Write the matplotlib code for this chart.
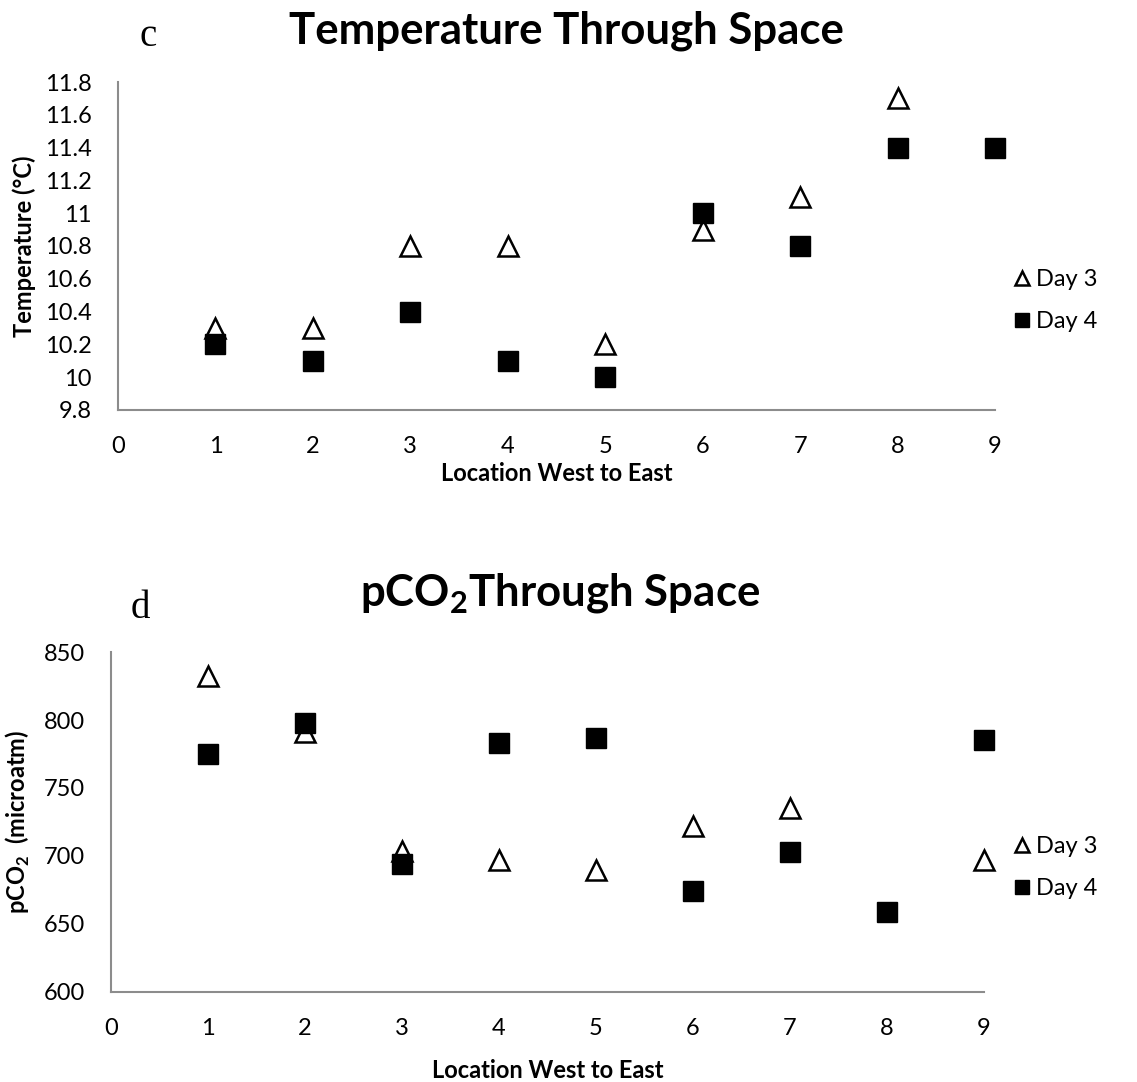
import matplotlib
matplotlib.use("Agg")
import matplotlib.pyplot as plt

plt.rcParams["font.family"] = ["Lato", "DejaVu Sans"]
plt.rcParams["mathtext.fontset"] = "custom"
plt.rcParams["mathtext.rm"] = "Lato"
plt.rcParams["mathtext.bf"] = "Lato:bold"

# location west to east
locations = [1, 2, 3, 4, 5, 6, 7, 8, 9]

# panel c: temperature (deg C)
temp_day3_x = [1, 2, 3, 4, 5, 6, 7, 8]
temp_day3 = [10.3, 10.3, 10.8, 10.8, 10.2, 10.9, 11.1, 11.7]
temp_day4 = [10.2, 10.1, 10.4, 10.1, 10.0, 11.0, 10.8, 11.4, 11.4]
temp_ticks = [9.8, 10, 10.2, 10.4, 10.6, 10.8, 11, 11.2, 11.4, 11.6, 11.8]
temp_tick_labels = ["9.8", "10", "10.2", "10.4", "10.6", "10.8", "11", "11.2", "11.4", "11.6", "11.8"]

# panel d: pCO2 (microatm)
pco2_day3 = [832, 791, 704, 697, 690, 722, 735, 697]
pco2_day3_x = [1, 2, 3, 4, 5, 6, 7, 9]
pco2_day4 = [775, 798, 694, 783, 787, 674, 703, 659, 785]
pco2_ticks = [600, 650, 700, 750, 800, 850]

x_ticks = [0, 1, 2, 3, 4, 5, 6, 7, 8, 9]

spine_col = "#8c8c8c"

fig = plt.figure(figsize=(11.37, 10.82), dpi=100)
ax_c = fig.add_axes([0.1038, 0.6211, 0.7713, 0.3031])
ax_d = fig.add_axes([0.0976, 0.0832, 0.7678, 0.3142])


def style_axes(ax):
    for side in ["top", "right"]:
        ax.spines[side].set_visible(False)
    for side in ["left", "bottom"]:
        ax.spines[side].set_color(spine_col)
        ax.spines[side].set_linewidth(1.5)
    ax.set_xlim(0, 9)
    ax.set_xticks(x_ticks)
    ax.tick_params(axis="both", length=0, labelsize=17)
    ax.tick_params(axis="x", pad=19)
    ax.tick_params(axis="y", pad=19)


def draw_points(ax, x3, y3, x4, y4):
    ax.plot(x3, y3, linestyle="none", marker="^", markersize=14,
            markerfacecolor="white", markeredgecolor="black", markeredgewidth=1.8,
            label="Day 3", clip_on=False, zorder=3)
    ax.plot(x4, y4, linestyle="none", marker="s", markersize=14,
            color="black", label="Day 4", clip_on=False, zorder=4)


def add_legend(ax, y):
    ax.legend(loc="center left", bbox_to_anchor=(0.882, y), bbox_transform=fig.transFigure,
              frameon=False, fontsize=17, markerscale=0.75, handlelength=0.6,
              handletextpad=0.3, labelspacing=0.9, borderpad=0)


# panel c
draw_points(ax_c, temp_day3_x, temp_day3, locations, temp_day4)
style_axes(ax_c)
ax_c.set_ylim(9.8, 11.8)
ax_c.set_yticks(temp_ticks)
ax_c.set_yticklabels(temp_tick_labels)
ax_c.set_xlabel("Location West to East", fontsize=17, fontweight="bold", labelpad=3)
ax_c.set_ylabel("Temperature (°C)", fontsize=17, fontweight="bold", labelpad=6)
fig.text(0.498, 0.972, "Temperature Through Space", fontsize=31.5, fontweight="bold",
         ha="center", va="center")
fig.text(0.13, 0.966, "c", fontsize=28, family="Liberation Serif", ha="center", va="center")
add_legend(ax_c, 0.722)

# panel d
draw_points(ax_d, pco2_day3_x, pco2_day3, locations, pco2_day4)
style_axes(ax_d)
ax_d.set_ylim(600, 850)
ax_d.set_yticks(pco2_ticks)
ax_d.set_xlabel("Location West to East", fontsize=17, fontweight="bold", labelpad=14)
ax_d.set_ylabel(r"pCO$_\mathbf{2}$  (microatm)", fontsize=17, fontweight="bold", labelpad=8)
fig.text(0.4925, 0.452, r"pCO$_\mathbf{2}$Through Space", fontsize=31.5, fontweight="bold",
         ha="center", va="center")
fig.text(0.123, 0.438, "d", fontsize=28, family="Liberation Serif", ha="center", va="center")
add_legend(ax_d, 0.198)

fig.savefig("out.png", dpi=100)
